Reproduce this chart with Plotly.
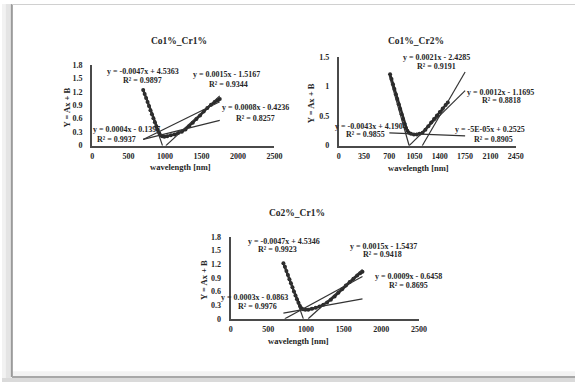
import plotly.graph_objects as go

W, H = 583, 387

# ---------------- data ----------------
titles = ["Co1%_Cr1%", "Co1%_Cr2%", "Co2%_Cr1%"]

wl1 = [700, 720, 740, 760, 780, 800, 820, 840, 860, 880, 900, 920, 940, 960, 990, 1030,
       1080, 1130, 1180, 1230, 1280, 1330, 1380, 1430, 1480, 1530, 1580, 1630, 1680, 1720, 1750]
y1 = [1.24, 1.15, 1.06, 0.97, 0.88, 0.79, 0.70, 0.61, 0.52, 0.43, 0.35, 0.28, 0.23, 0.21, 0.20, 0.21,
      0.23, 0.25, 0.28, 0.31, 0.36, 0.43, 0.51, 0.59, 0.67, 0.76, 0.84, 0.91, 0.97, 1.01, 1.04]

wl2 = [710, 730, 750, 770, 790, 810, 830, 850, 870, 890, 910, 930, 950, 970, 1000, 1040,
       1080, 1120, 1160, 1200, 1240, 1280, 1320, 1360, 1400, 1440, 1480, 1510]
y2 = [1.21, 1.13, 1.04, 0.96, 0.87, 0.79, 0.70, 0.62, 0.53, 0.45, 0.37, 0.30, 0.25, 0.22, 0.20, 0.19,
      0.19, 0.20, 0.22, 0.27, 0.33, 0.39, 0.45, 0.51, 0.57, 0.63, 0.69, 0.73]

wl3 = [700, 720, 740, 760, 780, 800, 820, 840, 860, 880, 900, 920, 940, 960, 990, 1030,
       1080, 1130, 1180, 1230, 1280, 1330, 1380, 1430, 1480, 1530, 1580, 1630, 1680, 1720, 1750]
y3 = [1.22, 1.14, 1.05, 0.96, 0.87, 0.78, 0.69, 0.60, 0.51, 0.43, 0.35, 0.28, 0.23, 0.21, 0.20, 0.20,
      0.22, 0.24, 0.27, 0.31, 0.36, 0.42, 0.49, 0.57, 0.65, 0.73, 0.81, 0.88, 0.95, 1.00, 1.03]

# trendlines: slope, intercept, x-start, x-end
slopes1 = [-0.0047, 0.0015, 0.0008, 0.0004]
icpts1 = [4.5363, -1.5167, -0.4236, -0.1397]
xs1 = [700, 1011, 700, 700]
xe1 = [965, 1750, 1750, 1750]
eq1 = ["y = -0.0047x + 4.5363", "y = 0.0015x - 1.5167", "y = 0.0008x - 0.4236", "y = 0.0004x - 0.1397"]
r2_1 = ["R² = 0.9897", "R² = 0.9344", "R² = 0.8257", "R² = 0.9937"]

slopes2 = [0.0021, 0.0012, -0.0043, -0.00005]
icpts2 = [-2.4285, -1.1695, 4.1904, 0.2525]
xs2 = [1156, 975, 700, 700]
xe2 = [1750, 1750, 974, 1750]
eq2 = ["y = 0.0021x - 2.4285", "y = 0.0012x - 1.1695", "y = -0.0043x + 4.1904", "y = -5E-05x + 0.2525"]
r2_2 = ["R² = 0.9191", "R² = 0.8818", "R² = 0.9855", "R² = 0.8905"]

slopes3 = [-0.0047, 0.0015, 0.0009, 0.0003]
icpts3 = [4.5346, -1.5437, -0.6458, -0.0863]
xs3 = [700, 1029, 718, 700]
xe3 = [965, 1750, 1750, 1750]
eq3 = ["y = -0.0047x + 4.5346", "y = 0.0015x - 1.5437", "y = 0.0009x - 0.6458", "y = 0.0003x - 0.0863"]
r2_3 = ["R² = 0.9923", "R² = 0.9418", "R² = 0.8695", "R² = 0.9976"]

xticks12 = [0, 500, 1000, 1500, 2000, 2500]
xticks2 = [0, 350, 700, 1050, 1400, 1750, 2100, 2450]
yticks13 = [0, 0.3, 0.6, 0.9, 1.2, 1.5, 1.8]
yticks2 = [0, 0.5, 1, 1.5]
ytick2_text = ["0", "0.5", "1", "1.5"]

# ---------------- layout helpers (pixels -> paper) ----------------
def fx(px):
    return px / W

def fy(py):
    return 1 - py / H

FONT = "Liberation Serif"
TXT = "#262626"

fig = go.Figure()

panels = [
    dict(wl=wl1, y=y1, sl=slopes1, ic=icpts1, xs=xs1, xe=xe1, eq=eq1, r2=r2_1,
         xd=(91.7, 277.2), yd=(145, 62.2), xr=[0, 2500], yr=[0, 1.8],
         xt=xticks12, yt=yticks13, ytt=[str(v) for v in yticks13],
         title=(180, 38), ytitle=(66, 106), xtitle=(182, 167),
         eqpos=[(143, 69), (228, 72), (258, 106), (127, 129)],
         r2pos=[(143, 78), (230, 82), (258, 117), (117, 139)]),
    dict(wl=wl2, y=y2, sl=slopes2, ic=icpts2, xs=xs2, xe=xe2, eq=eq2, r2=r2_2,
         xd=(342.7, 522.6), yd=(145, 54.3), xr=[0, 2450], yr=[0, 1.5],
         xt=xticks2, yt=yticks2, ytt=ytick2_text,
         title=(421.7, 38), ytitle=(314, 102), xtitle=(424, 168),
         eqpos=[(441.7, 54.3), (506.7, 90.7), (375, 125), (496.7, 128.3)],
         r2pos=[(441.7, 64.3), (508, 99.3), (370, 133.3), (500, 138.3)]),
    dict(wl=wl3, y=y3, sl=slopes3, ic=icpts3, xs=xs3, xe=xe3, eq=eq3, r2=r2_3,
         xd=(232.7, 424.2), yd=(322.3, 238.3), xr=[0, 2500], yr=[0, 1.8],
         xt=xticks12, yt=yticks13, ytt=[str(v) for v in yticks13],
         title=(300, 214), ytitle=(206, 282), xtitle=(302, 345),
         eqpos=[(286.7, 242.7), (388.3, 248.3), (413.3, 279), (256.7, 300.7)],
         r2pos=[(280, 251.7), (387.3, 256.7), (413.3, 288), (260, 310)]),
]

def ann(text, px, py, size, angle=0):
    return dict(text="<b>%s</b>" % text, x=fx(px), y=fy(py), xref="paper", yref="paper",
                xanchor="center", yanchor="middle", showarrow=False, textangle=angle,
                font=dict(family=FONT, size=size, color=TXT))

annotations = []
for i, p in enumerate(panels):
    n = "" if i == 0 else str(i + 1)
    xa, ya = "x" + n, "y" + n
    # data
    fig.add_trace(go.Scatter(x=p["wl"], y=p["y"], mode="lines+markers", xaxis=xa, yaxis=ya,
                             line=dict(color="#2a2a2a", width=2.4),
                             marker=dict(color="#2a2a2a", size=4), showlegend=False))
    # trendlines
    for a, b, x0, x1 in zip(p["sl"], p["ic"], p["xs"], p["xe"]):
        fig.add_trace(go.Scatter(x=[x0, x1], y=[a * x0 + b, a * x1 + b], mode="lines",
                                 xaxis=xa, yaxis=ya, line=dict(color="#333333", width=1.2),
                                 showlegend=False))
    axcommon = dict(showgrid=False, zeroline=False, showline=True, linecolor="#4a4a4a",
                    linewidth=2, ticks="", tickfont=dict(family=FONT, size=8, color=TXT),
                    fixedrange=True)
    fig.update_layout(**{
        ("xaxis" + n): dict(domain=[fx(p["xd"][0]), fx(p["xd"][1])], range=p["xr"],
                            anchor=ya, tickmode="array", tickvals=p["xt"],
                            ticklabelstandoff=2, **axcommon),
        ("yaxis" + n): dict(domain=[fy(p["yd"][0]), fy(p["yd"][1])], range=p["yr"],
                            anchor=xa, tickmode="array", tickvals=p["yt"], ticktext=p["ytt"],
                            ticklabelstandoff=6, **axcommon),
    })
    annotations.append(ann(titles[i], p["title"][0], p["title"][1], 9.5))
    annotations.append(ann("Y = Ax + B", p["ytitle"][0], p["ytitle"][1], 8.5, -90))
    annotations.append(ann("wavelength [nm]", p["xtitle"][0], p["xtitle"][1], 8.5))
    for t, (ex, ey) in zip(p["eq"], p["eqpos"]):
        annotations.append(ann(t, ex, ey, 8))
    for t, (ex, ey) in zip(p["r2"], p["r2pos"]):
        annotations.append(ann(t, ex, ey, 8))

shapes = [
    # left shadow outside the frame
    dict(type="rect", xref="paper", yref="paper", x0=0, x1=fx(4), y0=0, y1=1,
         fillcolor="#f2f2f2", line=dict(width=0), layer="below"),
    dict(type="rect", xref="paper", yref="paper", x0=fx(4), x1=fx(9), y0=0, y1=1,
         fillcolor="#e4e4e4", line=dict(width=0), layer="below"),
    # bottom shadow
    dict(type="rect", xref="paper", yref="paper", x0=0, x1=1, y0=0, y1=fy(383),
         fillcolor="#dadada", line=dict(width=0), layer="below"),
    dict(type="rect", xref="paper", yref="paper", x0=fx(10), x1=1, y0=fy(383), y1=fy(376),
         fillcolor="#f3f3f3", line=dict(width=0), layer="below"),
    # frame lines
    dict(type="line", xref="paper", yref="paper", x0=fx(10), x1=fx(10), y0=fy(382), y1=1,
         line=dict(color="#9a9a9a", width=2)),
    dict(type="line", xref="paper", yref="paper", x0=fx(10), x1=1, y0=fy(382), y1=fy(382),
         line=dict(color="#a8a8a8", width=2)),
    dict(type="line", xref="paper", yref="paper", x0=fx(10), x1=1, y0=fy(0.5), y1=fy(0.5),
         line=dict(color="#d0d0d0", width=1)),
]

fig.update_layout(width=W, height=H, margin=dict(l=0, r=0, t=0, b=0),
                  paper_bgcolor="white", plot_bgcolor="rgba(0,0,0,0)",
                  font=dict(family=FONT, color=TXT, weight="bold"),
                  annotations=annotations, shapes=shapes, showlegend=False)

fig.write_html("out.html", config={"displayModeBar": False})
